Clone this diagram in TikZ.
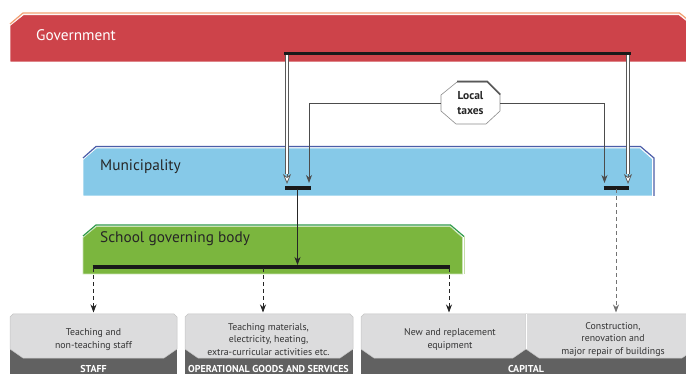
\documentclass[tikz,border=0pt]{standalone}
\usepackage{fontspec}
\setmainfont{PT Sans}
\usetikzlibrary{arrows.meta,calc}
\definecolor{govred}{HTML}{CD434A}
\definecolor{govline}{HTML}{F2A072}
\definecolor{munblue}{HTML}{86C9E8}
\definecolor{munline}{HTML}{4B5DA8}
\definecolor{schgreen}{HTML}{7BB63E}
\definecolor{schline}{HTML}{2F9A4A}
\definecolor{boxlight}{HTML}{DCDCDD}
\definecolor{boxdark}{HTML}{616161}
\definecolor{boxedge}{HTML}{C4C4C4}
\begin{document}
\begin{tikzpicture}[x=1pt,y=-1pt,
  bandtext/.style={anchor=west,inner sep=0pt,font=\fontsize{15.3}{17}\selectfont},
  boxtext/.style={align=center,inner sep=0pt,text=black!80,font=\fontsize{9.8}{12.5}\selectfont},
  cattext/.style={inner sep=0pt,text=white,font=\bfseries\fontsize{10}{11}\selectfont},
  thickbar/.style={line width=3.5pt,draw=black!90},
  flow/.style={draw=black!85,line width=0.8pt,-{Stealth[length=8pt,width=6pt,inset=2.5pt]}},
  dashflow/.style={flow,dash pattern=on 4pt off 3pt},
  taxline/.style={draw=black!70,line width=0.9pt,-{Stealth[length=8pt,width=6pt,inset=2.5pt]}},
  hollowshaft/.style={draw=black!65,line width=0.75pt,double=white,double distance=1.6pt},
  hollowtip/.style={draw=black!65,line width=0.75pt,-{Stealth[fill=white,length=10pt,width=8pt,inset=3pt]}},
  lightpart/.style={fill=boxlight,draw=boxedge,line width=0.5pt}
]
\useasboundingbox (0,0) rectangle (686,374);
\clip (0,0) rectangle (686,374);

% ---------- Government band
\fill[govred,draw=white,line width=0.6pt] (10,25.5) -- (23.5,14.8) -- (679,14.8) -- (690,23.5) -- (690,62) -- (10,62) -- cycle;
\draw[govline,line width=1.2pt] (10,24) -- (23,13) -- (679.5,13) -- (690,21.5);
\node[bandtext,text=white] (gov) at (36,35) {Government};

% ---------- Municipality band
\fill[munblue,draw=white,line width=0.6pt] (83,159.5) -- (96.5,148) -- (640,148) -- (652.5,159) -- (652.5,196) -- (83,196) -- cycle;
\draw[munline,line width=1.2pt] (83,158) -- (96,146.5) -- (640.5,146.5) -- (654,158) -- (654,196);
\node[bandtext,text=black!85] (mun) at (100,167) {Municipality};

% ---------- School governing body band
\fill[schgreen,draw=white!60!schgreen,line width=0.6pt] (83,237.5) -- (96.5,226.5) -- (450,226.5) -- (462.5,237.5) -- (462.5,274) -- (83,274) -- cycle;
\draw[schline,line width=1.2pt] (83,236) -- (96,225) -- (450.5,225) -- (464,236.5);
\draw[white!55!schgreen,line width=0.8pt] (464,236.5) -- (464,274);
\node[bandtext,text=black!85] (sch) at (100,239) {School governing body};

% ---------- bottom boxes
\fill[boxdark] (10,345) rectangle (177,380);
\fill[boxdark] (185,345) rectangle (353,380);
\fill[boxdark] (361,345) rectangle (700,380);
\filldraw[lightpart] (10,317) -- (13,314) -- (174,314) -- (177,317) -- (177,349) -- (164,358) -- (23,358) -- (10,349) -- cycle;
\filldraw[lightpart] (185,317) -- (188,314) -- (350,314) -- (353,317) -- (353,349) -- (340,358) -- (198,358) -- (185,349) -- cycle;
\filldraw[lightpart] (361,317) -- (364,314) -- (526,314) -- (526,349) -- (513,358) -- (374,358) -- (361,349) -- cycle;
\filldraw[lightpart] (526,314) -- (700,314) -- (700,349) -- (695,349) -- (682,358) -- (539,358) -- (526,349) -- cycle;
\draw[white,line width=0.8pt] (526,314.5) -- (526,348.5);

\node[boxtext] (b1) at (93.5,339.5) {Teaching and\\non-teaching staff};
\node[boxtext] (b2) at (268.5,339.5) {Teaching materials,\\electricity, heating,\\extra-curricular activities etc.};
\node[boxtext] (b3) at (450,339.5) {New and replacement\\equipment};
\node[boxtext] (b4) at (613,339.5) {Construction,\\renovation and\\major repair of buildings};
\node[cattext] (c1) at (93.5,368.8) {STAFF};
\node[cattext] (c2) at (268.5,368.8) {OPERATIONAL GOODS AND SERVICES};
\node[cattext] (c3) at (526,368.8) {CAPITAL};

% ---------- Local taxes octagon
\node[minimum width=59pt,minimum height=42pt,inner sep=0pt] (tax) at (470.5,103) {};
\filldraw[fill=white,draw=black!45,line width=0.6pt,shift={(tax.center)}]
  (-29.5,-8) -- (-13.5,-21) -- (16.5,-21) -- (29.5,-8) -- (29.5,8) -- (15.5,21) -- (-14.5,21) -- (-29.5,8) -- cycle;
\draw[black!65,line width=1.6pt,shift={(tax.center)}] (-13.5,-21.5) -- (16.8,-21.5) -- (29.8,-8.5);
\node[align=center,inner sep=0pt,font=\bfseries\fontsize{11.5}{15}\selectfont,text=black!85] (taxtext) at (tax.center) {Local\\taxes};

% ---------- coordinates
\coordinate (gbL) at (284,53.5);
\coordinate (gbR) at (631,53.5);
\coordinate (hL0) at (287,55);
\coordinate (hL1) at (287,174);
\coordinate (hL2) at (287,184);
\coordinate (hR0) at (628,55);
\coordinate (hR1) at (628,174);
\coordinate (hR2) at (628,184);
\coordinate (mbLa) at (285,188);
\coordinate (mbLb) at (310.5,188);
\coordinate (mbRa) at (603.5,188);
\coordinate (mbRb) at (629,188);
\coordinate (tL) at (309,183);
\coordinate (tR) at (604.5,183);
\coordinate (mbLc) at (297.5,189.5);
\coordinate (sbTop) at (297.5,265);
\coordinate (sbL) at (92.5,267);
\coordinate (sbR) at (450,267);
\coordinate (d1) at (93.5,268.5);
\coordinate (d2) at (263,268.5);
\coordinate (d3) at (449,268.5);
\coordinate (e1) at (93.5,312.5);
\coordinate (e2) at (263,312.5);
\coordinate (e3) at (449,312.5);
\coordinate (mbRc) at (616,189.5);
\coordinate (e4) at (616,312.5);

% ---------- government bar and hollow arrows
\draw[thickbar] (gbL) -- (gbR);
\draw[hollowshaft] (hL0) -- (hL1);
\draw[hollowshaft] (hR0) -- (hR1);
\draw[hollowtip] (hL1) -- (hL2);
\draw[hollowtip] (hR1) -- (hR2);

% ---------- local taxes flows
\draw[taxline] (tax.west) -| (tL);
\draw[taxline] (tax.east) -| (tR);

% ---------- municipality bars
\draw[thickbar] (mbLa) -- (mbLb);
\draw[thickbar] (mbRa) -- (mbRb);
\draw[flow] (mbLc) -- (sbTop);
\draw[dashflow,draw=black!55] (mbRc) -- (e4);

% ---------- school bar and dashed flows
\draw[thickbar] (sbL) -- (sbR);
\draw[dashflow] (d1) -- (e1);
\draw[dashflow] (d2) -- (e2);
\draw[dashflow] (d3) -- (e3);
\end{tikzpicture}
\end{document}
